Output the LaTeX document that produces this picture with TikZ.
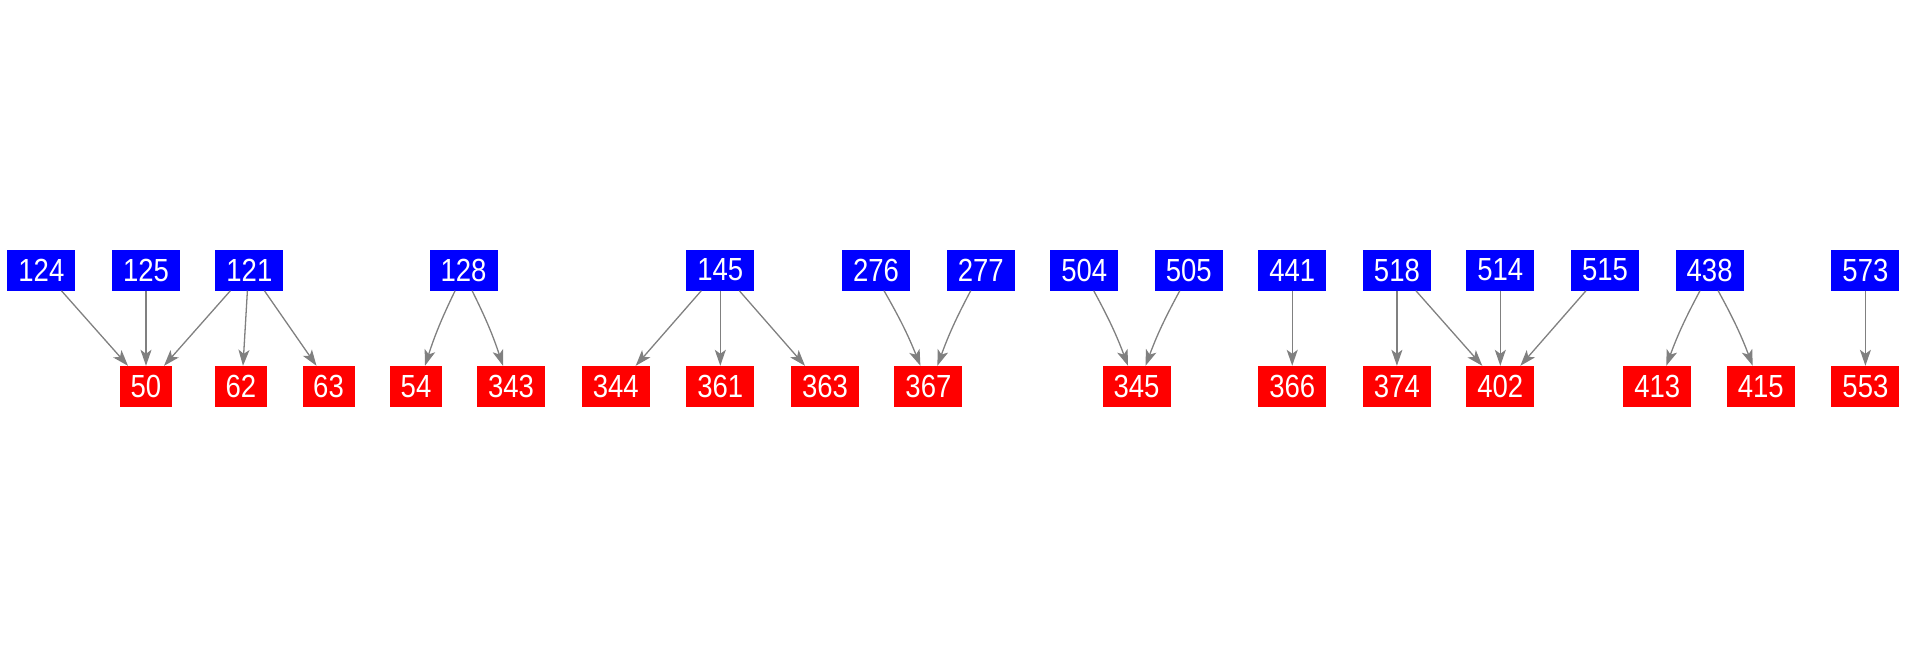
\documentclass[tikz,border=0pt]{standalone}
\usepackage{fontspec}
\setmainfont{Liberation Sans}[FakeStretch=0.86]
\usetikzlibrary{arrows.meta,calc}
\definecolor{edgegray}{RGB}{128,128,128}
\tikzset{
  box/.style={inner sep=0pt, minimum height=41pt, text=white,
    font=\fontsize{32}{36}\selectfont},
  srcbox/.style={box, fill=blue, minimum width=68pt},
  dstbox/.style={box, fill=red, minimum width=68pt},
  dstsmall/.style={box, fill=red, minimum width=52pt},
  edge/.style={draw=edgegray, line width=1.3pt,
    -{Stealth[length=16pt, width=11pt, inset=4pt]}}
}
\begin{document}
\begin{tikzpicture}[x=1pt, y=-1pt]
\useasboundingbox (0,0) rectangle (1908,656);
% top row
\node[srcbox] (n124) at (41.4,270) {124};
\node[srcbox] (n125) at (146,270) {125};
\node[srcbox] (n121) at (249.4,270) {121};
\node[srcbox] (n128) at (463.6,270) {128};
\node[srcbox] (n145) at (720.3,270) {145};
\node[srcbox] (n276) at (876,270) {276};
\node[srcbox] (n277) at (980.7,270) {277};
\node[srcbox] (n504) at (1084.2,270) {504};
\node[srcbox] (n505) at (1188.8,270) {505};
\node[srcbox] (n441) at (1292.2,270) {441};
\node[srcbox] (n518) at (1396.9,270) {518};
\node[srcbox] (n514) at (1500.3,270) {514};
\node[srcbox] (n515) at (1605,270) {515};
\node[srcbox] (n438) at (1709.6,270) {438};
\node[srcbox] (n573) at (1865.4,270) {573};
% bottom row
\node[dstsmall] (n50) at (146,386.5) {50};
\node[dstsmall] (n62) at (241,386.5) {62};
\node[dstsmall] (n63) at (328.5,386.5) {63};
\node[dstsmall] (n54) at (416,386.5) {54};
\node[dstbox] (n343) at (511,386.5) {343};
\node[dstbox] (n344) at (615.7,386.5) {344};
\node[dstbox] (n361) at (720.3,386.5) {361};
\node[dstbox] (n363) at (825,386.5) {363};
\node[dstbox] (n367) at (928.4,386.5) {367};
\node[dstbox] (n345) at (1136.5,386.5) {345};
\node[dstbox] (n366) at (1292.2,386.5) {366};
\node[dstbox] (n374) at (1396.9,386.5) {374};
\node[dstbox] (n402) at (1500.3,386.5) {402};
\node[dstbox] (n413) at (1657.3,386.5) {413};
\node[dstbox] (n415) at (1760.7,386.5) {415};
\node[dstbox] (n553) at (1865.4,386.5) {553};
% edges
\draw[edge] ($(n124.south)+(20,0)$) -- ($(n50.north)+(-18,0)$);
\draw[edge] (n125.south) -- (n50.north);
\draw[edge] ($(n121.south)+(-19,0)$) -- ($(n50.north)+(18,0)$);
\draw[edge] ($(n121.south)+(-2,0)$) -- ($(n62.north)+(2,0)$);
\draw[edge] ($(n121.south)+(15,0)$) -- ($(n63.north)+(-12,0)$);
\draw[edge] ($(n128.south)+(-8.5,0)$) to[bend right=4] ($(n54.north)+(9,0)$);
\draw[edge] ($(n128.south)+(8.5,0)$) to[bend left=4] ($(n343.north)+(-8,0)$);
\draw[edge] ($(n145.south)+(-19,0)$) -- ($(n344.north)+(20,0)$);
\draw[edge] (n145.south) -- (n361.north);
\draw[edge] ($(n145.south)+(19,0)$) -- ($(n363.north)+(-20,0)$);
\draw[edge] ($(n276.south)+(8,0)$) to[bend left=4] ($(n367.north)+(-8,0)$);
\draw[edge] ($(n277.south)+(-10,0)$) to[bend right=4] ($(n367.north)+(9,0)$);
\draw[edge] ($(n504.south)+(9.5,0)$) to[bend left=4] ($(n345.north)+(-8.5,0)$);
\draw[edge] ($(n505.south)+(-9,0)$) to[bend right=4] ($(n345.north)+(9,0)$);
\draw[edge] (n441.south) -- (n366.north);
\draw[edge] (n518.south) -- (n374.north);
\draw[edge] ($(n518.south)+(19,0)$) -- ($(n402.north)+(-18,0)$);
\draw[edge] (n514.south) -- (n402.north);
\draw[edge] ($(n515.south)+(-19,0)$) -- ($(n402.north)+(20,0)$);
\draw[edge] ($(n438.south)+(-9.6,0)$) to[bend right=4] ($(n413.north)+(9,0)$);
\draw[edge] ($(n438.south)+(8.5,0)$) to[bend left=4] ($(n415.north)+(-8,0)$);
\draw[edge] (n573.south) -- (n553.north);
\end{tikzpicture}
\end{document}
